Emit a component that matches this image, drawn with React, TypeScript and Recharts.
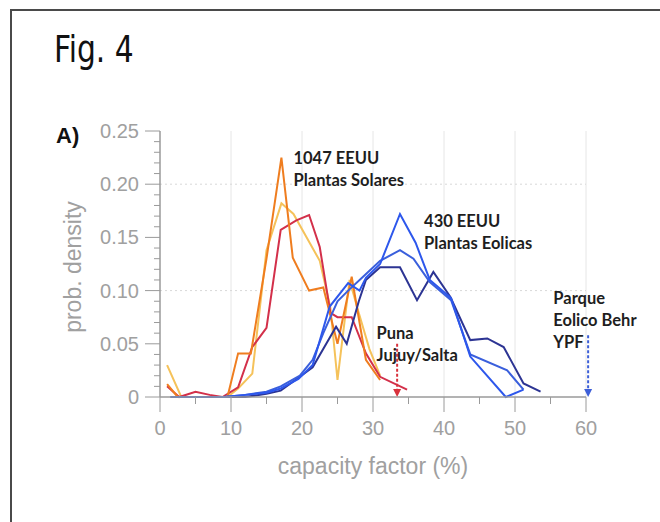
import React from 'react';
import { LineChart, Line, XAxis, YAxis, ReferenceLine, ReferenceDot } from 'recharts';

// ---- axis ticks ----
const xTicks = [0, 5, 10, 15, 20, 25, 30, 35, 40, 45, 50, 55, 60];
const xMajorTicks = [0, 10, 20, 30, 40, 50, 60];
const yTicks = [
  0, 0.01, 0.02, 0.03, 0.04, 0.05, 0.06, 0.07, 0.08, 0.09, 0.1, 0.11, 0.12, 0.13,
  0.14, 0.15, 0.16, 0.17, 0.18, 0.19, 0.2, 0.21, 0.22, 0.23, 0.24, 0.25,
];
const yMajorTicks = [0, 0.05, 0.1, 0.15, 0.2, 0.25];
const yTickLabels = ['0', '0.05', '0.10', '0.15', '0.20', '0.25'];
const gridX = [10, 20, 30, 40, 50, 60];
const gridY = [0.1, 0.2];

// ---- solar plants (1047 EEUU) ----
const solarOrangeX = [1, 2.5, 9.5, 11, 12.8, 15, 17.1, 18.7, 21, 23, 25, 27, 29, 31];
const solarOrangeY = [0.012, 0, 0, 0.041, 0.041, 0.13, 0.225, 0.131, 0.1, 0.103, 0.05, 0.113, 0.035, 0.016];

const solarYellowX = [1, 3, 9.5, 11, 13, 15, 17.1, 18.8, 22.5, 24, 25, 26.7, 28, 29.5, 31];
const solarYellowY = [0.03, 0, 0, 0.008, 0.022, 0.138, 0.182, 0.172, 0.128, 0.084, 0.016, 0.11, 0.079, 0.045, 0.02];

const solarRedX = [1, 2.7, 5, 7, 8.8, 11, 13, 15, 17, 19.2, 21, 22.5, 24, 25, 27, 29, 31, 34.8];
const solarRedY = [0.01, 0, 0.005, 0.002, 0, 0.009, 0.047, 0.065, 0.157, 0.166, 0.171, 0.141, 0.079, 0.075, 0.075, 0.041, 0.019, 0.007];

// ---- wind plants (430 EEUU) ----
const windBrightX = [1.5, 9, 12, 15, 17, 19.5, 21.5, 23.9, 26.5, 28.1, 29, 31, 33.8, 36, 38, 41, 43.7, 48.7, 51.2];
const windBrightY = [0, 0, 0.002, 0.004, 0.008, 0.017, 0.03, 0.085, 0.107, 0.1, 0.112, 0.125, 0.172, 0.145, 0.11, 0.093, 0.038, 0, 0.007];

const windBlueX = [1.5, 9, 12, 15, 17, 19.7, 21.5, 23, 25, 26.5, 28.6, 31, 33.8, 35.7, 38, 41, 43.7, 48.9, 51.2];
const windBlueY = [0, 0, 0.002, 0.005, 0.01, 0.02, 0.035, 0.06, 0.09, 0.1, 0.113, 0.128, 0.138, 0.13, 0.108, 0.091, 0.04, 0.025, 0.007];

const windNavyX = [1.5, 9, 12, 15, 17, 19.7, 21.5, 24.8, 26.3, 28, 29, 31, 33.8, 36.2, 38.5, 40.9, 43.7, 46.1, 48.4, 51.2, 53.6];
const windNavyY = [0, 0, 0, 0.003, 0.006, 0.019, 0.028, 0.066, 0.05, 0.09, 0.11, 0.122, 0.122, 0.091, 0.1175, 0.094, 0.0535, 0.055, 0.047, 0.0128, 0.005];

// ---- site markers ----
const punaX = 33.4;
const punaTop = 0.05;
const behrX = 60.3;
const behrTop = 0.058;

const zip = (xs: number[], ys: number[]) => xs.map((x, i) => ({ x, y: ys[i] }));

const AXIS = '#9a9a9a';
const LABEL = '#a0a0a0';
const SANS = 'Liberation Sans, Arial, Helvetica, sans-serif';
const NOTE = 'Lato, "Open Sans", sans-serif';

const isMajorX = (v: number) => xMajorTicks.includes(v);
const majorYIndex = (v: number) => yMajorTicks.findIndex((m) => Math.abs(m - v) < 1e-9);

const XTick = (props: any) => {
  const { x, y, payload } = props;
  const v = payload.value;
  const major = isMajorX(v);
  return (
    <g>
      <line x1={x} x2={x} y1={y} y2={y + (major ? 15 : 7)} stroke={AXIS} strokeWidth={1} />
      {major && (
        <text x={x} y={y + 38} textAnchor="middle" fill={LABEL} fontSize={20} fontFamily={SANS}>
          {String(v)}
        </text>
      )}
    </g>
  );
};

const YTick = (props: any) => {
  const { x, y, payload } = props;
  const idx = majorYIndex(payload.value);
  const major = idx >= 0;
  return (
    <g>
      <line x1={x - (major ? 15 : 6)} x2={x} y1={y} y2={y} stroke={AXIS} strokeWidth={1} />
      {major && (
        <text x={x - 21} y={y + 7} textAnchor="end" fill={LABEL} fontSize={20} fontFamily={SANS}>
          {yTickLabels[idx]}
        </text>
      )}
    </g>
  );
};

const Note = (lines: string[]) => (props: any) => {
  const { cx, cy } = props;
  return (
    <text x={cx} y={cy} fill="#1e1e1e" fontSize={16.5} fontWeight={700} fontFamily={NOTE}>
      {lines.map((l, i) => (
        <tspan key={i} x={cx} dy={i === 0 ? 0 : 22}>
          {l}
        </tspan>
      ))}
    </text>
  );
};

const Arrow = (color: string) => (props: any) => {
  const { x1, y1, x2, y2 } = props;
  const top = Math.min(y1, y2);
  const bot = Math.max(y1, y2);
  return (
    <g>
      <line x1={x1} x2={x2} y1={top} y2={bot - 6} stroke={color} strokeWidth={2} strokeDasharray="3 2" />
      <path d={`M${x1 - 4},${bot - 8} L${x1 + 4},${bot - 8} L${x1},${bot} Z`} fill={color} />
    </g>
  );
};

export default function App() {
  const series = [
    { key: 'yellow', data: zip(solarYellowX, solarYellowY), color: '#f5c25a' },
    { key: 'red', data: zip(solarRedX, solarRedY), color: '#d3304a' },
    { key: 'orange', data: zip(solarOrangeX, solarOrangeY), color: '#ef7d1f' },
    { key: 'navy', data: zip(windNavyX, windNavyY), color: '#2c3493' },
    { key: 'blue', data: zip(windBlueX, windBlueY), color: '#3a5fdc' },
    { key: 'bright', data: zip(windBrightX, windBrightY), color: '#2d57ec' },
  ];
  return (
    <div style={{ position: 'absolute', left: 0, top: 0, width: 660, height: 522, overflow: 'hidden', background: '#fff' }}>
      <div
        style={{
          position: 'absolute',
          left: 10,
          top: 9,
          width: 720,
          height: 620,
          border: '2px solid #4a4a4a',
        }}
      />
      <div
        style={{
          position: 'absolute',
          left: 54,
          top: 27,
          fontFamily: '"Liberation Sans Narrow", "DejaVu Sans Condensed", "Liberation Sans", sans-serif',
          fontSize: 38,
          color: '#111',
          transform: 'scaleX(0.87)',
          transformOrigin: 'left top',
          whiteSpace: 'nowrap',
        }}
      >
        Fig. 4
      </div>
      <div style={{ position: 'absolute', left: 0, top: 0 }}>
        <LineChart width={660} height={522} margin={{ top: 131, right: 74, bottom: 85, left: 100 }}>
          {gridX.map((g) => (
            <ReferenceLine key={'gx' + g} x={g} stroke="#e6e6e6" strokeWidth={1} />
          ))}
          {gridY.map((g) => (
            <ReferenceLine key={'gy' + g} y={g} stroke="#d8d8d8" strokeWidth={1} strokeDasharray="2 3" />
          ))}
          <XAxis
            type="number"
            dataKey="x"
            domain={[0, 60]}
            ticks={xTicks}
            interval={0}
            tick={<XTick />}
            tickLine={false}
            tickSize={0}
            tickMargin={0}
            height={40}
            stroke={AXIS}
            axisLine={{ stroke: AXIS, strokeWidth: 1.5 }}
          />
          <YAxis
            type="number"
            dataKey="y"
            domain={[0, 0.25]}
            ticks={yTicks}
            interval={0}
            tick={<YTick />}
            tickLine={false}
            tickSize={0}
            tickMargin={0}
            width={60}
            axisLine={{ stroke: AXIS, strokeWidth: 1.5 }}
          />
          {series.map((s) => (
            <Line
              key={s.key}
              data={s.data}
              dataKey="y"
              type="linear"
              stroke={s.color}
              strokeWidth={2}
              dot={false}
              activeDot={false}
              isAnimationActive={false}
            />
          ))}
          <ReferenceLine
            segment={[{ x: punaX, y: punaTop }, { x: punaX, y: 0 }]}
            stroke="#d8323c"
            ifOverflow="visible"
            shape={Arrow('#d8323c')}
          />
          <ReferenceLine
            segment={[{ x: behrX, y: behrTop }, { x: behrX, y: 0 }]}
            stroke="#3d5fd8"
            ifOverflow="visible"
            shape={Arrow('#3d5fd8')}
          />
          <ReferenceDot x={18.8} y={0.2186} r={0} ifOverflow="visible" shape={Note(['1047 EEUU', 'Plantas Solares'])} />
          <ReferenceDot x={37.2} y={0.16} r={0} ifOverflow="visible" shape={Note(['430 EEUU', 'Plantas Eolicas'])} />
          <ReferenceDot x={30.5} y={0.0545} r={0} ifOverflow="visible" shape={Note(['Puna', 'Jujuy/Salta'])} />
          <ReferenceDot x={55.4} y={0.0874} r={0} ifOverflow="visible" shape={Note(['Parque', 'Eolico Behr', 'YPF'])} />
        </LineChart>
      </div>
      <div
        style={{
          position: 'absolute',
          left: 56,
          top: 123,
          fontFamily: SANS,
          fontWeight: 700,
          fontSize: 22,
          color: '#111',
        }}
      >
        A)
      </div>
      <div
        style={{
          position: 'absolute',
          left: 273,
          top: 453,
          width: 200,
          textAlign: 'center',
          fontFamily: SANS,
          fontSize: 23,
          color: LABEL,
          whiteSpace: 'nowrap',
        }}
      >
        capacity factor (%)
      </div>
      <div
        style={{
          position: 'absolute',
          left: 73,
          top: 267,
          transform: 'translate(-50%, -50%) rotate(-90deg)',
          fontFamily: SANS,
          fontSize: 23,
          color: LABEL,
          whiteSpace: 'nowrap',
        }}
      >
        prob. density
      </div>
    </div>
  );
}
